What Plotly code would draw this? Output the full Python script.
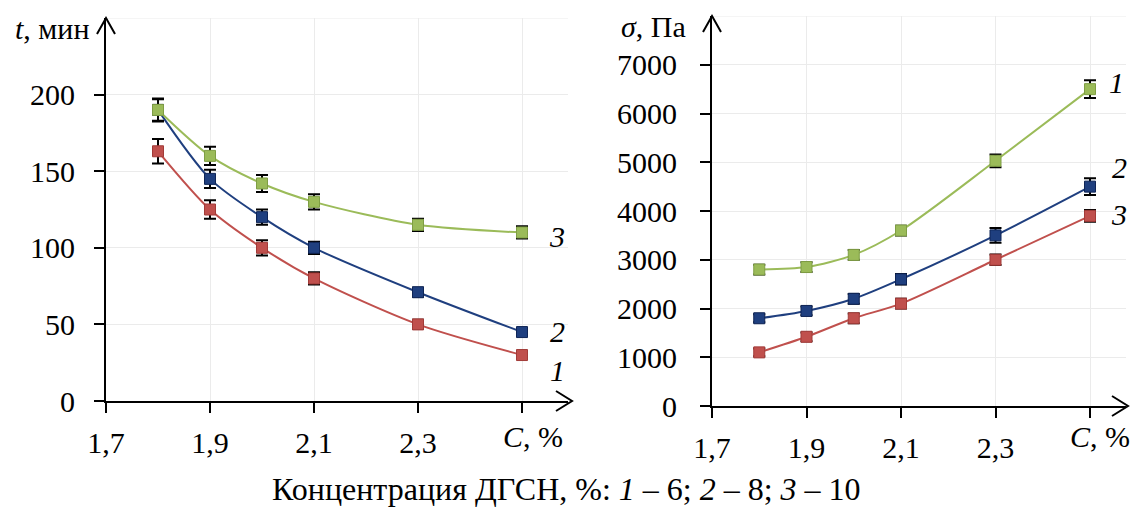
import plotly.graph_objects as go

# ---------------- data ----------------
conc = [1.8, 1.9, 2.0, 2.1, 2.3, 2.5]

# left panel: time t, min
t_1 = [163, 125, 100, 80, 50, 30]
t_2 = [190, 145, 120, 100, 71, 45]
t_3 = [190, 160, 142, 130, 115, 110]
t_err_1 = [8, 6, 5, 4, 3, 2]
t_err_2 = [7, 6, 5, 4, 3, 2]
t_err_3 = [7.5, 6, 5.5, 5, 4, 4]

# right panel: stress sigma, Pa
s_1 = [2800, 2850, 3100, 3600, 5030, 6500]   # labelled "1" (green)
s_2 = [1800, 1950, 2200, 2600, 3500, 4500]   # labelled "2" (blue)
s_3 = [1100, 1420, 1800, 2100, 3000, 3900]   # labelled "3" (red)
s_err_1 = [100, 100, 100, 100, 130, 180]
s_err_2 = [80, 90, 100, 110, 150, 170]
s_err_3 = [80, 90, 100, 100, 110, 120]

x_tickvals = [1.7, 1.9, 2.1, 2.3, 2.5]
x_ticktext = ["1,7", "1,9", "2,1", "2,3", ""]
t_tickvals = [0, 50, 100, 150, 200]
s_tickvals = [0, 1000, 2000, 3000, 4000, 5000, 6000, 7000]

RED, RED_D = "#c0504d", "#a23b38"
BLUE, BLUE_D = "#1f3f7f", "#0f2556"
GREEN, GREEN_D = "#9bbb59", "#7f9e44"

FONT = "'Liberation Serif', 'Times New Roman', 'DejaVu Serif', serif"
FS = 30
W, H = 1130, 509

def px_x(p):
    return p / W

def px_y(p):
    return 1 - p / H

fig = go.Figure()

def add_series(x, y, err, color, dark, xa, ya):
    fig.add_trace(go.Scatter(
        x=x, y=y, xaxis=xa, yaxis=ya, mode="lines+markers",
        line=dict(color=color, width=2, shape="spline", smoothing=0.8),
        marker=dict(symbol="square", size=11, color=color, line=dict(color=dark, width=1)),
        error_y=dict(type="data", array=err, visible=True, color="black", thickness=2, width=6),
        showlegend=False, hoverinfo="skip"))

add_series(conc, t_1, t_err_1, RED, RED_D, "x", "y")
add_series(conc, t_2, t_err_2, BLUE, BLUE_D, "x", "y")
add_series(conc, t_3, t_err_3, GREEN, GREEN_D, "x", "y")
add_series(conc, s_3, s_err_3, RED, RED_D, "x2", "y2")
add_series(conc, s_2, s_err_2, BLUE, BLUE_D, "x2", "y2")
add_series(conc, s_1, s_err_1, GREEN, GREEN_D, "x2", "y2")

# panel geometry (pixels)
L1, R1, T1, B1 = 106, 568, 18, 401
L2, R2, T2, B2 = 712, 1126, 16, 406
x1_max = 1.7 + (R1 - L1) / 520.0
x2_max = 1.7 + (R2 - L2) / 472.5

axis_common = dict(
    showline=True, linecolor="black", linewidth=2,
    ticks="outside", ticklen=10, tickwidth=2, tickcolor="black",
    showgrid=True, gridcolor="#ebebeb", gridwidth=1, zeroline=False,
    automargin=False,
    tickfont=dict(family=FONT, size=FS, color="black"),
)

fig.update_layout(
    template="none",
    width=W, height=H, margin=dict(l=0, r=0, t=0, b=0, pad=0),
    paper_bgcolor="white", plot_bgcolor="white",
    font=dict(family=FONT, size=FS, color="black"),
    xaxis=dict(axis_common, domain=[px_x(L1), px_x(R1)], range=[1.7, x1_max],
               tickvals=x_tickvals, ticktext=x_ticktext, anchor="y", ticklabelstandoff=4),
    yaxis=dict(axis_common, domain=[px_y(B1), px_y(T1)], range=[0, 250],
               tickvals=t_tickvals, anchor="x", ticklabelstandoff=13),
    xaxis2=dict(axis_common, domain=[px_x(L2), px_x(R2)], range=[1.7, x2_max],
                tickvals=x_tickvals, ticktext=x_ticktext, anchor="y2", ticklabelstandoff=4),
    yaxis2=dict(axis_common, domain=[px_y(B2), px_y(T2)], range=[0, 8000],
                tickvals=s_tickvals, anchor="x2", ticklabelstandoff=17),
)

shapes = []
# top grid lines
shapes.append(dict(type="line", xref="x", yref="y", x0=1.7, x1=x1_max, y0=250, y1=250,
                   line=dict(color="#ebebeb", width=1), layer="below"))
shapes.append(dict(type="line", xref="x2", yref="y2", x0=1.7, x1=x2_max, y0=8000, y1=8000,
                   line=dict(color="#ebebeb", width=1), layer="below"))

def arrow_up(xp, yp):
    return dict(type="path", xref="paper", yref="paper", xsizemode="pixel", ysizemode="pixel",
                xanchor=px_x(xp), yanchor=px_y(yp), path="M -9,-16 L 0,0 L 9,-16",
                line=dict(color="black", width=2))

def arrow_right(xp, yp):
    return dict(type="path", xref="paper", yref="paper", xsizemode="pixel", ysizemode="pixel",
                xanchor=px_x(xp), yanchor=px_y(yp), path="M -16,10 L 0,0 L -16,-10",
                line=dict(color="black", width=2))

shapes += [arrow_up(L1, T1), arrow_right(R1 + 4, B1), arrow_up(L2, T2), arrow_right(R2 + 2, B2)]
fig.update_layout(shapes=shapes)

ann = []
def txt(text, xp, yp, xanchor="center", size=FS):
    ann.append(dict(text=text, xref="paper", yref="paper", x=px_x(xp), y=px_y(yp),
                    xanchor=xanchor, yanchor="middle", showarrow=False,
                    font=dict(family=FONT, size=size, color="black")))

# axis titles
txt("<i>t</i>, мин", 91, 29, xanchor="right")
txt("<i>σ</i>, Па", 688, 26, xanchor="right")
txt("<i>C</i>, %", 533, 436)
txt("<i>C</i>, %", 1100, 436)
# curve labels
txt("<i>3</i>", 557, 236)
txt("<i>2</i>", 557, 331)
txt("<i>1</i>", 557, 370)
txt("<i>1</i>", 1116, 82)
txt("<i>2</i>", 1129, 168, xanchor="right")
txt("<i>3</i>", 1129, 214, xanchor="right")
# caption
txt("Концентрация ДГСН, %: <i>1</i> – 6; <i>2</i> – 8; <i>3</i> – 10", 566, 489, size=32)
fig.update_layout(annotations=ann)

fig.write_html("out.html")
